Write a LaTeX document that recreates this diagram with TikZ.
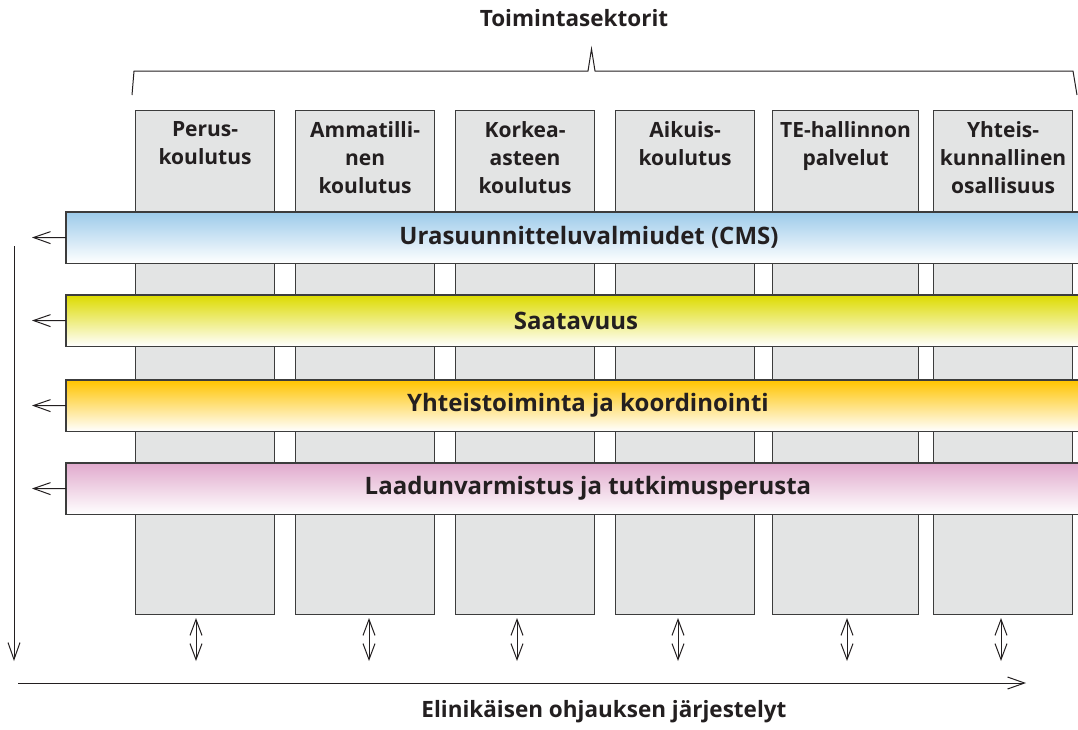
\documentclass[tikz,border=0pt]{standalone}
\usepackage{fontspec}
\setmainfont{Open Sans}
\usetikzlibrary{arrows.meta}
\definecolor{linegray}{HTML}{3C3C3C}
\definecolor{boxgray}{HTML}{E3E4E4}
\definecolor{txt}{HTML}{231F20}
\definecolor{cmsblue}{HTML}{9DCBEA}
\definecolor{saayellow}{HTML}{DDDB00}
\definecolor{yhtorange}{HTML}{FFC400}
\definecolor{laapink}{HTML}{E1AACD}
\tikzset{
  colbox/.style = {draw = linegray, fill = boxgray, line width = 1.2pt, anchor = north west, minimum height = 504pt, inner sep = 0pt},
  coltext/.style = {anchor = north, align = center, text = txt, inner sep = 0pt, font = \bfseries\fontsize{21}{28}\selectfont},
  band/.style = {anchor = north west, minimum width = 1014pt, minimum height = 51pt, inner sep = 0pt, bottom color = white},
  bandtext/.style = {text = txt, inner sep = 0pt, font = \bfseries\fontsize{24}{28}\selectfont},
  titletext/.style = {text = txt, inner sep = 0pt, font = \bfseries\fontsize{22.5}{26}\selectfont},
  barb/.style = {draw = txt, line width = 1pt, -{Straight Barb[length = 17pt, width = 12pt]}},
  twobarb/.style = {draw = txt, line width = 1pt, {Straight Barb[length = 16pt, width = 12pt]}-{Straight Barb[length = 16pt, width = 12pt]}}
}
\begin{document}
\begin{tikzpicture}[x = 1pt, y = -1pt]
\useasboundingbox (0, 0) rectangle (1078, 729);
% sektorit
\node[colbox, minimum width = 139pt] (col1) at (135, 110) {};
\node[colbox, minimum width = 139pt] (col2) at (295, 110) {};
\node[colbox, minimum width = 139pt] (col3) at (455, 110) {};
\node[colbox, minimum width = 139pt] (col4) at (615, 110) {};
\node[colbox, minimum width = 146pt] (col5) at (772, 110) {};
\node[colbox, minimum width = 139pt] (col6) at (933, 110) {};
\node[coltext] (sek1) at ([yshift = -11.5pt] col1.north) {Perus-\\koulutus};
\node[coltext] (sek2) at ([yshift = -11.5pt] col2.north) {Ammatilli-\\nen\\koulutus};
\node[coltext] (sek3) at ([yshift = -11.5pt] col3.north) {Korkea-\\asteen\\koulutus};
\node[coltext] (sek4) at ([yshift = -11.5pt] col4.north) {Aikuis-\\koulutus};
\node[coltext] (sek5) at ([yshift = -11.5pt] col5.north) {TE-hallinnon\\palvelut};
\node[coltext] (sek6) at ([yshift = -11.5pt] col6.north) {Yhteis-\\kunnallinen\\osallisuus};
% poikkileikkaavat teemat
\node[band, top color = cmsblue] (cms) at (66, 212) {};
\node[band, top color = saayellow] (saa) at (66, 295) {};
\node[band, top color = yhtorange] (yht) at (66, 380) {};
\node[band, top color = laapink] (laa) at (66, 463) {};
\draw[linegray, line width = 1.2pt] (cms.north east) -- (cms.north west) -- (cms.south west) -- (cms.south east);
\draw[linegray, line width = 1.2pt] (saa.north east) -- (saa.north west) -- (saa.south west) -- (saa.south east);
\draw[linegray, line width = 1.2pt] (yht.north east) -- (yht.north west) -- (yht.south west) -- (yht.south east);
\draw[linegray, line width = 1.2pt] (laa.north east) -- (laa.north west) -- (laa.south west) -- (laa.south east);
\node[bandtext] (cmstext) at (589, 237.5) {Urasuunnitteluvalmiudet (CMS)};
\node[bandtext] (saatext) at (576, 320.5) {Saatavuus};
\node[bandtext] (yhttext) at (588, 405.5) {Yhteistoiminta ja koordinointi};
\node[bandtext] (laatext) at (588, 488.5) {Laadunvarmistus ja tutkimusperusta};
% nuolet vasemmalle
\coordinate (cmsout) at (32, 237.5);
\coordinate (saaout) at (32, 320.5);
\coordinate (yhtout) at (32, 405.5);
\coordinate (laaout) at (32, 488.5);
\draw[barb] (cms.west) -- (cmsout);
\draw[barb] (saa.west) -- (saaout);
\draw[barb] (yht.west) -- (yhtout);
\draw[barb] (laa.west) -- (laaout);
% sulkumerkki ja otsikko
\node[titletext] (otsikko) at (574, 18) {Toimintasektorit};
\draw[txt, line width = 1pt, line join = miter] (132, 95) -- (134, 71) -- (588, 71) -- (591.5, 49) -- (595, 71) -- (1073, 71) -- (1077, 95);
% kaksisuuntaiset nuolet
\coordinate (v1a) at (196, 618); \coordinate (v1b) at (196, 661);
\coordinate (v2a) at (369, 618); \coordinate (v2b) at (369, 661);
\coordinate (v3a) at (517, 618); \coordinate (v3b) at (517, 661);
\coordinate (v4a) at (678, 618); \coordinate (v4b) at (678, 661);
\coordinate (v5a) at (847, 618); \coordinate (v5b) at (847, 661);
\coordinate (v6a) at (1001, 618); \coordinate (v6b) at (1001, 661);
\draw[twobarb] (v1a) -- (v1b);
\draw[twobarb] (v2a) -- (v2b);
\draw[twobarb] (v3a) -- (v3b);
\draw[twobarb] (v4a) -- (v4b);
\draw[twobarb] (v5a) -- (v5b);
\draw[twobarb] (v6a) -- (v6b);
% akselit
\coordinate (ylos) at (14, 246);
\coordinate (alas) at (14, 661);
\coordinate (vasen) at (18, 683);
\coordinate (oikea) at (1026, 683);
\draw[barb] (ylos) -- (alas);
\draw[barb] (vasen) -- (oikea);
\node[titletext] (jarjestelyt) at (604, 712) {Elinikäisen ohjauksen järjestelyt};
\end{tikzpicture}
\end{document}
